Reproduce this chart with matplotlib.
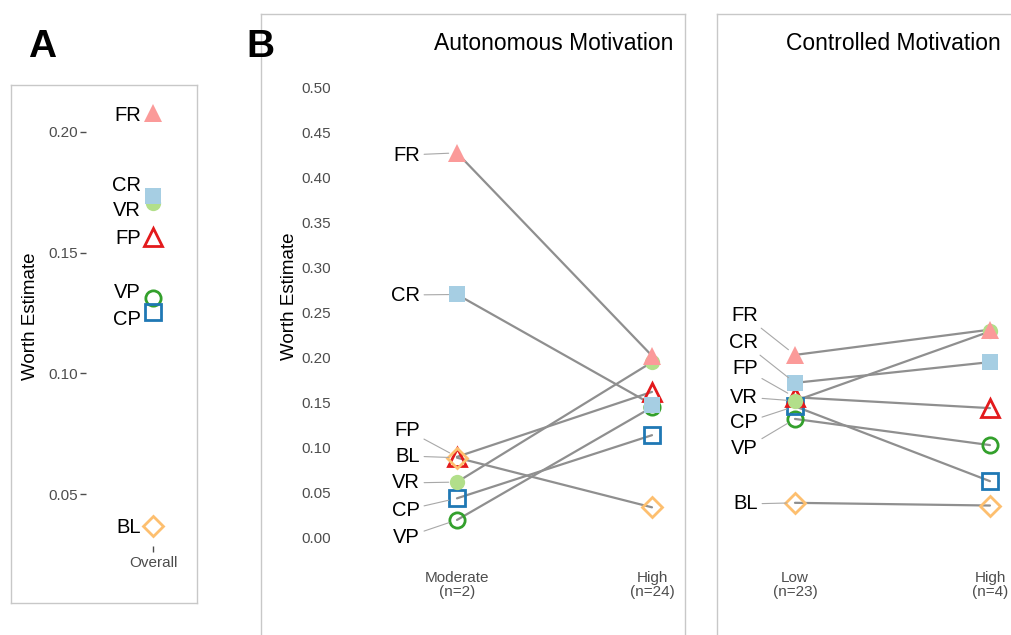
import matplotlib
matplotlib.use("Agg")
import matplotlib.pyplot as plt
from matplotlib.lines import Line2D

plt.rcParams['font.family'] = ['Liberation Sans', 'DejaVu Sans']

# Item worth estimates (Plackett-Luce style)
items = ['VP', 'CP', 'FP', 'VR', 'CR', 'FR', 'BL']
overall = [0.131, 0.1255, 0.1565, 0.1705, 0.1735, 0.2078, 0.0367]

auto_groups = ['Moderate\n(n=2)', 'High\n(n=24)']
auto_moderate = [0.020, 0.044, 0.090, 0.062, 0.270, 0.427, 0.089]
auto_high = [0.145, 0.114, 0.162, 0.195, 0.148, 0.202, 0.034]

ctrl_groups = ['Low\n(n=23)', 'High\n(n=4)']
ctrl_low = [0.132, 0.146, 0.156, 0.152, 0.172, 0.203, 0.039]
ctrl_high = [0.103, 0.063, 0.144, 0.229, 0.195, 0.231, 0.036]

# marker style per item: (marker, colour, filled)
styles = {
    'FR': ('^', '#FB9A99', True),
    'CR': ('s', '#A6CEE3', True),
    'VR': ('o', '#B2DF8A', True),
    'FP': ('^', '#E31A1C', False),
    'CP': ('s', '#1F78B4', False),
    'VP': ('o', '#33A02C', False),
    'BL': ('D', '#FDBF6F', False),
}
msizes = {'^': 13, 's': 11, 'o': 11, 'D': 10}

# label y placement (repelled positions)
lab_overall = {'FR': 0.207, 'CR': 0.178, 'VR': 0.1673, 'FP': 0.1557,
               'VP': 0.1333, 'CP': 0.1221, 'BL': 0.0363}
lab_auto = {'FR': 0.4246, 'CR': 0.2694, 'FP': 0.1197, 'BL': 0.0909,
            'VR': 0.061, 'CP': 0.031, 'VP': 0.0011}
lab_ctrl = {'FR': 0.2472, 'CR': 0.2173, 'FP': 0.1874, 'VR': 0.1563,
            'CP': 0.1275, 'VP': 0.0987, 'BL': 0.0377}

W, H = 1011, 635
fig = plt.figure(figsize=(W / 100, H / 100), dpi=100)

TICK_FS = 11
LAB_FS = 14.5


def px_axes(l, t, r, b):
    return fig.add_axes([l / W, 1 - b / H, (r - l) / W, (b - t) / H])


def border(l, t, r, b, sides='ltrb'):
    segs = {'l': ([l, l], [t, b]), 'r': ([r, r], [t, b]),
            't': ([l, r], [t, t]), 'b': ([l, r], [b, b])}
    for s in sides:
        xs, ys = segs[s]
        fig.add_artist(Line2D([x / W for x in xs], [1 - y / H for y in ys],
                              color='#c8c8c8', lw=1.0, transform=fig.transFigure))


def draw_marker(ax, x, y, item):
    m, c, filled = styles[item]
    ax.plot([x], [y], linestyle='none', marker=m, ms=msizes[m],
            markerfacecolor=c if filled else 'none',
            markeredgecolor=c, markeredgewidth=0 if filled else 2.0,
            zorder=3, clip_on=False)


def style_axes(ax):
    for sp in ax.spines.values():
        sp.set_visible(False)
    ax.tick_params(labelsize=TICK_FS, labelcolor='#4d4d4d', colors='#4d4d4d')


# ---- Panel A: overall worth ----
border(11, 85, 197, 603)
axA = px_axes(86, 95, 196, 546)
style_axes(axA)
axA.set_xlim(-0.609, 0.391)
axA.set_ylim(0.02846, 0.2153)
axA.set_yticks([0.05, 0.10, 0.15, 0.20])
axA.set_yticklabels(['0.05', '0.10', '0.15', '0.20'])
axA.set_xticks([0])
axA.set_xticklabels(['Overall'])
axA.tick_params(axis='y', length=4, width=1, pad=2)
axA.tick_params(axis='x', length=4, width=1, pad=3)
axA.set_ylabel('Worth Estimate', fontsize=13.5)
axA.yaxis.set_label_coords(-0.43, 0.51)
for it, v in zip(items, overall):
    draw_marker(axA, 0, v, it)
    axA.text(-0.11, lab_overall[it], it, ha='right', va='center',
             fontsize=LAB_FS)


def group_panel(ax, groups, v0, v1, labels):
    style_axes(ax)
    ax.set_ylim(-0.0244, 0.5078)
    ax.set_xticks([0, 1])
    ax.set_xticklabels(groups, linespacing=1.0)
    ax.tick_params(axis='both', length=0)
    ax.tick_params(axis='x', pad=8)
    for it, a, b in zip(items, v0, v1):
        ax.plot([0, 1], [a, b], color='#8f8f8f', lw=1.6, zorder=2,
                solid_capstyle='round', clip_on=False)
    for it, a, b in zip(items, v0, v1):
        draw_marker(ax, 0, a, it)
        draw_marker(ax, 1, b, it)
        ax.annotate(it, xy=(0, a), xytext=(-0.19, labels[it]),
                    textcoords='data', ha='right', va='center', fontsize=LAB_FS,
                    arrowprops=dict(arrowstyle='-', color='#a8a8a8', lw=0.8,
                                    shrinkA=1, shrinkB=6))


# ---- Panel B: autonomous motivation ----
border(261, 14, 685, 640, sides='ltr')
axB = px_axes(335, 80, 680, 560)
axB.set_xlim(-0.6256, 1.1436)
group_panel(axB, auto_groups, auto_moderate, auto_high, lab_auto)
axB.set_yticks([0.0, 0.05, 0.10, 0.15, 0.20, 0.25, 0.30, 0.35, 0.40, 0.45, 0.50])
axB.set_yticklabels(['%.2f' % t for t in axB.get_yticks()])
axB.tick_params(axis='y', pad=3)
axB.set_ylabel('Worth Estimate', fontsize=13.5)
axB.yaxis.set_label_coords(-0.107, 0.55)
fig.text(673 / W, 1 - 44 / H, 'Autonomous Motivation', ha='right', va='center',
         fontsize=16.5)

# ---- Panel C: controlled motivation ----
border(717, 14, 1013, 640, sides='lt')
axC = px_axes(725, 80, 1011, 560)
axC.set_xlim(-0.359, 1.108)
group_panel(axC, ctrl_groups, ctrl_low, ctrl_high, lab_ctrl)
axC.set_yticks([])
fig.text(1001 / W, 1 - 44 / H, 'Controlled Motivation', ha='right', va='center',
         fontsize=16.5)

# panel letters
fig.text(42 / W, 1 - 47 / H, 'A', ha='center', va='center', fontsize=28,
         fontweight='bold')
fig.text(260 / W, 1 - 47 / H, 'B', ha='center', va='center', fontsize=28,
         fontweight='bold')

fig.savefig('out.png', dpi=100)
